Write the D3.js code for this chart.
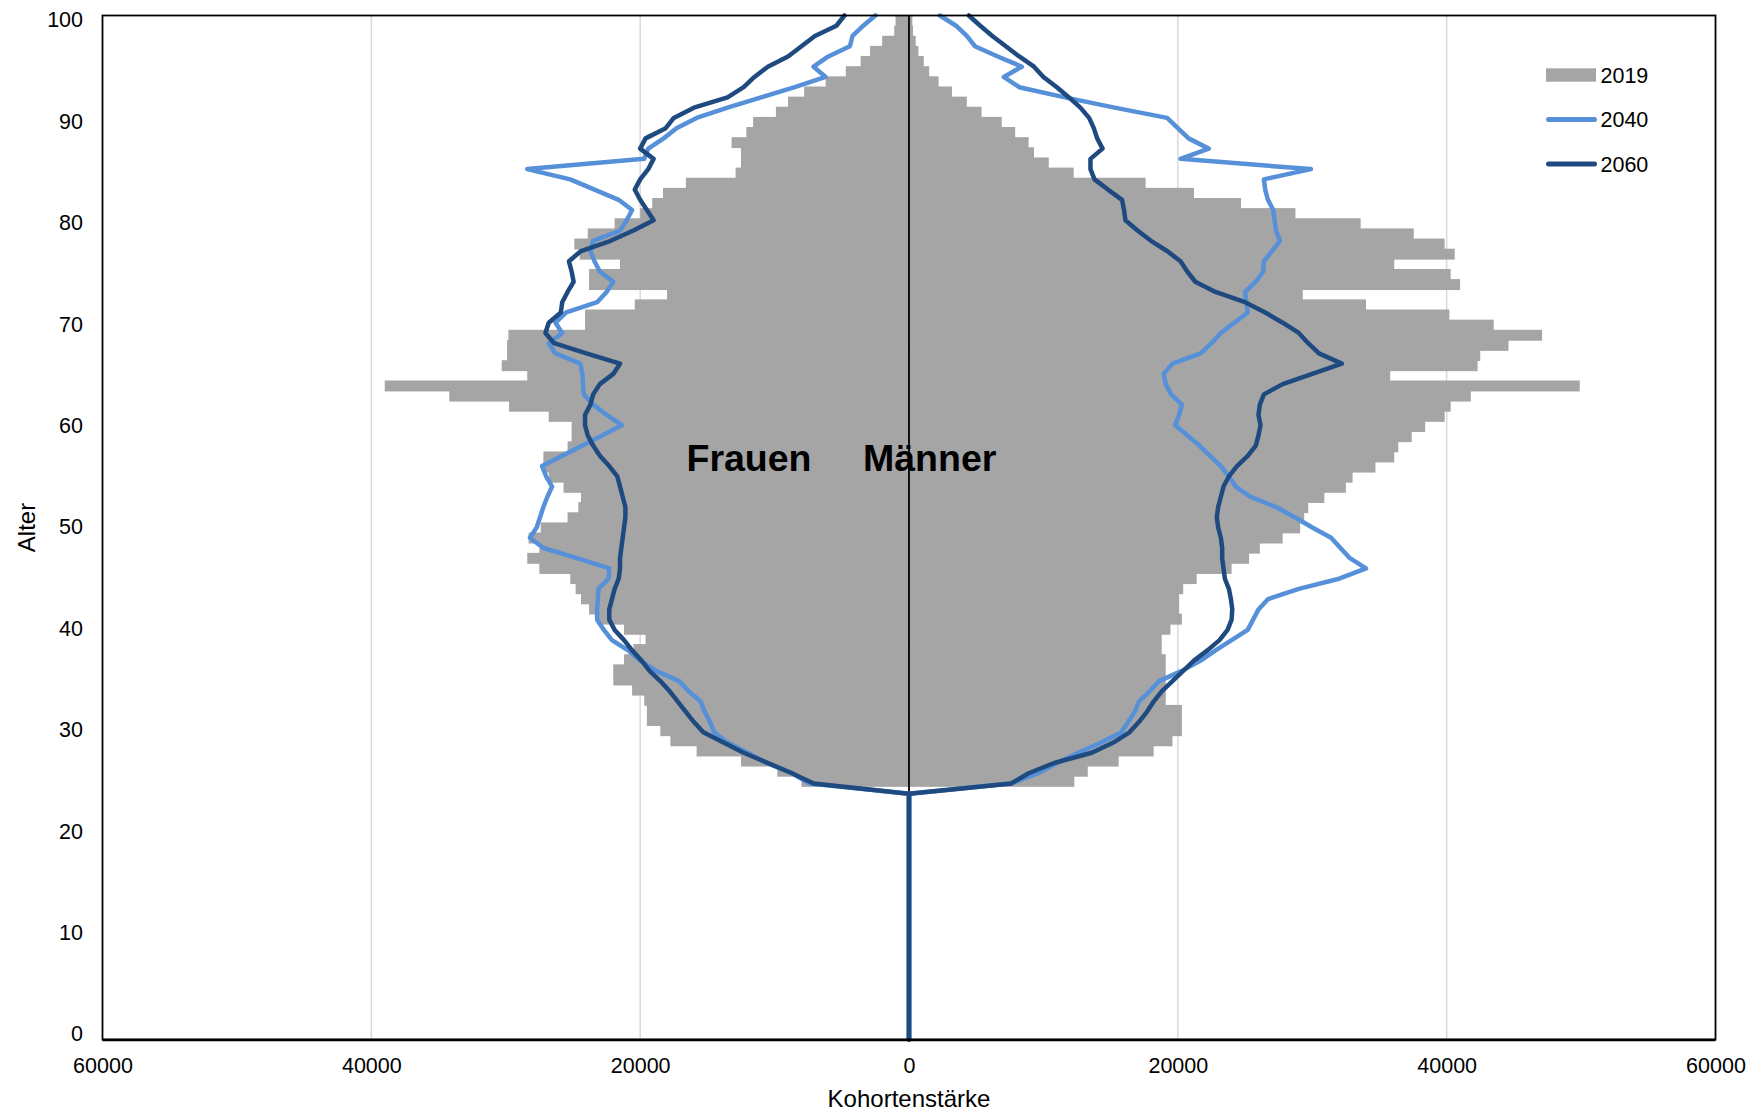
<!DOCTYPE html>
<html><head><meta charset="utf-8">
<script src="https://cdn.jsdelivr.net/npm/d3@7"></script>
<style>html,body{margin:0;padding:0;background:#fff;} svg{display:block;font-family:"Liberation Sans",Arial,sans-serif;}</style>
</head><body><svg id="chart" width="1750" height="1111"></svg>
<script>
// ages 0..100
const ages = d3.range(0, 101);

// 2019 cohort sizes (bars), index = age
const female2019 = [0,0,0,0,0,0,0,0,0,0, 0,0,0,0,0,0,0,0,0,0, 0,0,0,0,0,
  8000,9800,12500,15800,17750, 18500,19500,19500,19700,20600, 22000,22000,21200,20500,19600,
  21200,23200,23800,24400,24800, 25200,27500,28400,27500,28300, 27400,25400,24600,24400,25700,
  26800,27200,27200,25400,25100, 25100,26800,29750,34200,39000, 28400,30300,29900,29900,29800,
  24100,24100,20400,18000,23800, 23800,21500,24500,24900,23900, 21900,20000,19100,18300,16600,
  12900,12500,12500,13200,12100, 11600,9900,9000,7800,6200, 4700,3600,2900,2000,1100, 1000];
const male2019 = [0,0,0,0,0,0,0,0,0,0, 0,0,0,0,0,0,0,0,0,0, 0,0,0,0,0,
  12300,13300,15600,18200,19600, 20300,20300,20300,19100,19100, 19100,19100,19100,18800,18800,
  19450,20300,20100,20100,20400, 21400,24000,25300,26100,27800, 29100,29400,29700,30900,32500,
  33000,34700,36100,36400,37400, 38400,39850,40300,41800,49900, 35800,42300,42500,44600,47100,
  43500,40200,34000,29300,41000, 40300,36100,40600,39850,37550, 33600,28750,24700,21200,17600,
  12250,10400,9300,8900,7900, 6900,5400,4300,3200,2200, 1500,1100,700,500,300, 250];

// projections (lines), index = age
const female2040 = [0,0,0,0,0,0,0,0,0,0, 0,0,0,0,0,0,0,0,0,0, 0,0,0,0,0,
  7400,8700,10600,12000,13500, 14500,14800,15200,15500,16400, 17100,18800,20000,20900,22100,
  22700,23200,23200,23150,23100, 22350,22300,24700,27200,28200, 27700,27450,27200,26900,26550,
  27000,27300,25800,24300,22800, 21350,22500,23500,24200,24250, 24300,24450,26300,26800,25800,
  26300,25500,23200,22500,22000, 23000,23400,23700,23500,21500, 21000,20600,21600,23400,25200,
  28400,19700,19400,18250,17300, 15800,13500,11000,8500,6200, 7100,6000,4400,4200,3400, 2500];
const male2040 = [0,0,0,0,0,0,0,0,0,0, 0,0,0,0,0,0,0,0,0,0, 0,0,0,0,0,
  7600,9600,11000,12600,14300, 15800,16300,16800,17100,17900, 18600,20300,21700,22800,24000,
  25200,25600,26000,26700,29000, 32000,34000,32800,32100,31400, 30000,28700,27300,25400,24300,
  23800,23200,22400,21600,20700, 19800,20100,20300,19500,19100, 18950,19600,21700,22500,23200,
  24200,25200,25100,25000,25800, 26350,26400,27000,27600,27300, 27200,27100,26700,26500,26400,
  29900,20200,22300,20800,20000, 19200,15300,11600,8200,7050, 8400,6600,4900,4300,3500, 2300];
const female2060 = [0,0,0,0,0,0,0,0,0,0, 0,0,0,0,0,0,0,0,0,0, 0,0,0,0,0,
  7100,8700,10500,12300,13800, 15300,16000,16600,17200,17800, 18500,19300,19900,20600,21200,
  21900,22300,22300,22100,21900, 21600,21500,21500,21400,21300, 21200,21100,21100,21300,21500,
  21700,22300,23000,23500,23900, 24100,24100,23700,23500,23000, 22000,21500,24000,26400,27050,
  26800,25900,25800,25400,24950, 25100,25300,24400,22200,20500, 19000,19500,20000,20400,20000,
  19400,19000,20000,19600,18100, 17500,16000,13500,12300,11500, 10500,9000,8000,7000,5400, 4800];
const male2060 = [0,0,0,0,0,0,0,0,0,0, 0,0,0,0,0,0,0,0,0,0, 0,0,0,0,0,
  7600,8900,10800,13600,15200, 16400,17100,17700,18200,18800, 19600,20400,21200,22200,23100,
  23700,24000,24050,23950,23800, 23500,23400,23300,23300,23200, 23000,22900,23000,23200,23400,
  23800,24400,25200,25800,26000, 26150,26000,26100,26400,27800, 30000,32200,30500,29700,29000,
  27800,26500,25000,22800,21300, 20700,20200,19200,18000,17000, 16100,16000,15850,14800,13800,
  13500,13500,14400,14000,13750, 13400,12750,11900,11000,10000, 9300,8200,7200,6200,5300, 4450];

const xTickValues = [-60000, -40000, -20000, 0, 20000, 40000, 60000];
const gridValues = [-40000, -20000, 20000, 40000];
const yTickValues = [0, 10, 20, 30, 40, 50, 60, 70, 80, 90, 100];
const legendLabels = ["2019", "2040", "2060"];
const sideLabels = ["Frauen", "Männer"];

const C = {grey: "#A5A5A5", light: "#5690D8", dark: "#1F4A80", grid: "#D9D9D9"};
const FS = 21.5;
const FT = 24;

const svg = d3.select("#chart");
const plot = {left: 102.5, right: 1715.5, top: 15.5, bottom: 1039.5};

const x = d3.scaleLinear().domain([-60000, 60000]).range([plot.left, plot.right]);
const yBand = d3.scaleBand().domain(ages).range([plot.bottom, plot.top]).padding(0);
const yLine = d3.scaleLinear().domain([0, 100]).range([plot.bottom, plot.top]);

// gridlines
svg.append("g").selectAll("line").data(gridValues).join("line")
  .attr("x1", d => x(d)).attr("x2", d => x(d))
  .attr("y1", plot.top).attr("y2", plot.bottom)
  .attr("stroke", C.grid).attr("stroke-width", 1.5);

// bars 2019
const barData = [];
ages.forEach((a, i) => {
  if (female2019[i] > 0) barData.push({age: a, v: -female2019[i]});
  if (male2019[i] > 0) barData.push({age: a, v: male2019[i]});
});
svg.append("g").selectAll("rect").data(barData).join("rect")
  .attr("x", d => Math.min(x(0), x(d.v)))
  .attr("width", d => Math.abs(x(d.v) - x(0)))
  .attr("y", d => yBand(d.age))
  .attr("height", yBand.bandwidth() + 0.8)
  .attr("fill", C.grey);

// centre axis
svg.append("line").attr("x1", x(0)).attr("x2", x(0))
  .attr("y1", plot.top).attr("y2", plot.bottom)
  .attr("stroke", "#000").attr("stroke-width", 1.8);

// lines
const line = d3.line().x(d => x(d.v)).y(d => yLine(d.age));
function series(arr, sign) { return ages.map((a, i) => ({age: a, v: sign * arr[i]})); }
const lineSeries = [
  {data: series(female2040, -1), color: C.light},
  {data: series(male2040, 1), color: C.light},
  {data: series(female2060, -1), color: C.dark},
  {data: series(male2060, 1), color: C.dark}
];
svg.append("g").selectAll("path").data(lineSeries).join("path")
  .attr("d", d => line(d.data))
  .attr("fill", "none").attr("stroke", d => d.color)
  .attr("stroke-width", 4.5).attr("stroke-linejoin", "round").attr("stroke-linecap", "round");

// frame
svg.append("rect").attr("x", plot.left).attr("y", plot.top)
  .attr("width", plot.right - plot.left).attr("height", plot.bottom - plot.top)
  .attr("fill", "none").attr("stroke", "#000").attr("stroke-width", 1.8);
svg.append("line").attr("x1", plot.left).attr("x2", plot.right)
  .attr("y1", plot.bottom + 0.5).attr("y2", plot.bottom + 0.5)
  .attr("stroke", "#000").attr("stroke-width", 2.6);

// axes
const xAxis = svg.append("g").attr("transform", `translate(0,${plot.bottom})`)
  .call(d3.axisBottom(x).tickValues(xTickValues).tickFormat(d => String(Math.abs(d))).tickSize(0).tickPadding(18));
xAxis.select(".domain").remove();
xAxis.selectAll("text").attr("font-size", FS).attr("fill", "#000").attr("font-family", "Liberation Sans, Arial, sans-serif");

const yAxis = svg.append("g").attr("transform", `translate(${plot.left},0)`)
  .call(d3.axisLeft(yBand).tickValues(yTickValues).tickSize(0).tickPadding(19.5));
yAxis.select(".domain").remove();
yAxis.selectAll("text").attr("font-size", FS).attr("fill", "#000").attr("font-family", "Liberation Sans, Arial, sans-serif");

// axis titles
svg.append("text").attr("x", x(0)).attr("y", 1107).attr("text-anchor", "middle")
  .attr("font-size", FT).text("Kohortenstärke");
svg.append("text").attr("transform", `translate(34.5,${(plot.top + plot.bottom) / 2}) rotate(-90)`)
  .attr("text-anchor", "middle").attr("font-size", FT).text("Alter");

// side labels
svg.append("text").attr("x", 686.5).attr("y", 470.7).attr("font-size", 37.5).attr("font-weight", "bold").text(sideLabels[0]);
svg.append("text").attr("x", 863).attr("y", 470.7).attr("font-size", 37.5).attr("font-weight", "bold").text(sideLabels[1]);

// legend
const lg = svg.append("g");
const lgY = [75, 119.5, 164];
lg.append("rect").attr("x", 1546).attr("y", lgY[0] - 6.7).attr("width", 50).attr("height", 13.4).attr("fill", C.grey);
lg.append("line").attr("x1", 1548.5).attr("x2", 1594.5).attr("y1", lgY[1]).attr("y2", lgY[1])
  .attr("stroke", C.light).attr("stroke-width", 5).attr("stroke-linecap", "round");
lg.append("line").attr("x1", 1548.5).attr("x2", 1594.5).attr("y1", lgY[2]).attr("y2", lgY[2])
  .attr("stroke", C.dark).attr("stroke-width", 5).attr("stroke-linecap", "round");
lg.selectAll("text").data(legendLabels).join("text")
  .attr("x", 1600.5).attr("y", (d, i) => lgY[i] + 7.7)
  .attr("font-size", FS).text(d => d);
</script></body></html>
